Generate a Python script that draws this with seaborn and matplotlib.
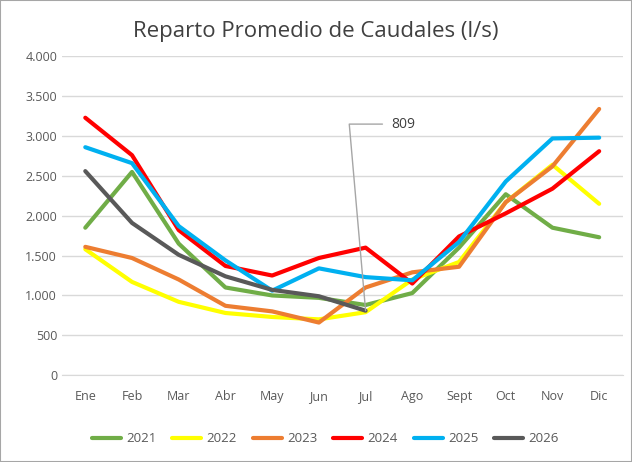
import numpy as np
import pandas as pd
import seaborn as sns
import matplotlib as mpl
import matplotlib.pyplot as plt

mpl.use("agg")

MONTHS = ["Ene", "Feb", "Mar", "Abr", "May", "Jun", "Jul", "Ago", "Sept", "Oct", "Nov", "Dic"]
Y2021 = [1850, 2550, 1650, 1100, 1000, 970, 880, 1030, 1600, 2270, 1850, 1730]
Y2022 = [1580, 1170, 920, 780, 730, 700, 790, 1200, 1420, 2170, 2640, 2150]
Y2023 = [1610, 1470, 1200, 870, 800, 660, 1100, 1290, 1360, 2170, 2620, 3340]
Y2024 = [3230, 2760, 1820, 1370, 1250, 1470, 1600, 1150, 1740, 2030, 2340, 2810]
Y2025 = [2860, 2660, 1870, 1440, 1060, 1340, 1230, 1190, 1670, 2430, 2970, 2980]
Y2026 = [2560, 1910, 1510, 1240, 1070, 990, 809]

PALETTE = {"2021": "#70ad47", "2022": "#ffff00", "2023": "#ed7d31",
           "2024": "#ff0000", "2025": "#00b0f0", "2026": "#595959"}

series = {"2021": Y2021, "2022": Y2022, "2023": Y2023,
          "2024": Y2024, "2025": Y2025, "2026": Y2026}
rows = []
for year, vals in series.items():
    for i, v in enumerate(vals):
        rows.append({"mes": i, "caudal": v, "year": year})
data = pd.DataFrame(rows)

sns.set_style("white")
plt.rcParams["font.family"] = ["Open Sans", "DejaVu Sans"]

fig = plt.figure(figsize=(6.32, 4.62), dpi=100)
ax = fig.add_axes([0.098, 0.188, 0.887, 0.69])
ax.yaxis.grid(True, color="#d9d9d9", linewidth=1)
sns.lineplot(data=data, x="mes", y="caudal", hue="year", palette=PALETTE,
             linewidth=3, ax=ax, legend=True)

ax.set_xlim(-0.5, 11.5)
ax.set_ylim(0, 4000)
ax.set_yticks(np.arange(0, 4001, 500))
ax.set_yticklabels([f"{v:,}".replace(",", ".") for v in range(0, 4001, 500)])
ax.set_xticks(range(12))
ax.set_xticklabels(MONTHS)
ax.tick_params(colors="#595959", labelsize=9, length=0)
for tl in ax.get_xticklabels():
    tl.set_y(-0.03)
ax.set_xlabel("")
ax.set_ylabel("")
for s in ["top", "right", "left"]:
    ax.spines[s].set_visible(False)
ax.spines["bottom"].set_color("#d9d9d9")

# callout for last 2026 value
ax.annotate("809", xy=(6, Y2026[-1]), xytext=(6.55, 3150), fontsize=10, color="#404040",
            va="center",
            arrowprops=dict(arrowstyle="-", color="#a6a6a6", lw=1,
                            connectionstyle="angle,angleA=0,angleB=95,rad=0",
                            shrinkA=4, shrinkB=0))

handles, labels = ax.get_legend_handles_labels()
ax.legend(handles, labels, loc="center", bbox_to_anchor=(0.47, -0.2), ncol=6,
          frameon=False, fontsize=9.5, handlelength=2.2, handletextpad=0.4,
          columnspacing=1.2, labelcolor="#595959")

fig.suptitle("Reparto Promedio de Caudales (l/s)", y=0.955, fontsize=16, color="#404040")
fig.patches.append(mpl.patches.Rectangle((0, 0), 1, 1, transform=fig.transFigure,
                                         fill=False, edgecolor="#a6a6a6", lw=1.5))
fig.savefig("out.png", dpi=100)
